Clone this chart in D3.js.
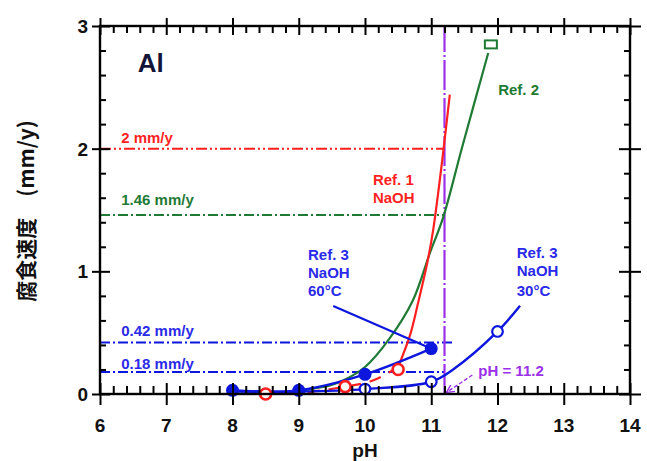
<!DOCTYPE html>
<html><head><meta charset="utf-8">
<script src="https://cdn.jsdelivr.net/npm/d3@7"></script>
<style>body{margin:0;background:#fff} svg{display:block}</style>
</head><body><svg id="c" width="647" height="461"></svg>
<script>
// ---- data ----
const xTickValues = [6, 7, 8, 9, 10, 11, 12, 13, 14];
const yTickValues = [0, 1, 2, 3];
const refLevels = [2, 1.46, 0.42, 0.18];
const refLabels = ["2 mm/y", "1.46 mm/y", "0.42 mm/y", "0.18 mm/y"];
const refEnds = [11.2, 11.2, 11.35, 11.2];
const limitPH = 11.2;
const ref1Dashed = [[8.5, 0.0], [9.2, 0.02], [9.7, 0.06], [10.12, 0.11], [10.5, 0.22]];
const ref1Curve = [[10.5, 0.22], [10.68, 0.48], [10.8, 0.74], [10.94, 1.07], [11.03, 1.34], [11.16, 1.88], [11.28, 2.44]];
const ref1Points = [[8.5, 0.0], [9.7, 0.06], [10.5, 0.2]];
const ref2Curve = [[8.9, 0.01], [9.06, 0.03], [9.47, 0.07], [9.67, 0.11], [10.0, 0.22], [10.38, 0.46], [10.72, 0.76], [10.98, 1.15], [11.18, 1.44], [11.46, 2.0], [11.86, 2.78]];
const ref2Points = [[11.9, 2.85]];
const ref3HotPoints = [[8, 0.03], [9, 0.03], [10, 0.16], [11, 0.37]];
const ref3ColdCurve = [[8, 0.02], [9, 0.02], [10, 0.04], [11, 0.1], [11.33, 0.2], [12, 0.51], [12.34, 0.72]];
const ref3ColdPoints = [[10, 0.04], [11, 0.1], [12, 0.51]];

// ---- layout ----
const x = d3.scaleLinear().domain([6, 14]).range([100, 630]);
const y = d3.scaleLinear().domain([0, 3]).range([394, 26]);
const RED = "#ff1f1f", GREEN = "#1f7a34", BLUE = "#0d16dc", PURPLE = "#9b30e8", TBLUE = "#2a2ae8";
const FONT = "'Liberation Sans', Arial, sans-serif";
const svg = d3.select("#c");
const line = d3.line().x(d => x(d[0])).y(d => y(d[1])).curve(d3.curveCatmullRom.alpha(0.5));

// reference horizontal lines
const dashes = ["11,3,2,3,2,3", "10,3,2,3", "10,3,2,3", "10,3,2,3"];
const refColors = [RED, GREEN, BLUE, BLUE];
refLevels.forEach((v, i) => {
  svg.append("line").attr("x1", x(6)).attr("x2", x(refEnds[i]))
    .attr("y1", y(v)).attr("y2", y(v))
    .attr("stroke", refColors[i]).attr("stroke-width", 2).attr("stroke-dasharray", dashes[i]);
});
const refLabelY = [2.046, 1.54, 0.473, 0.204];
refLabels.forEach((t, i) => {
  svg.append("text").attr("x", x(6.32)).attr("y", y(refLabelY[i]))
    .attr("fill", refColors[i] === BLUE ? TBLUE : refColors[i])
    .attr("font-family", FONT).attr("font-weight", "bold").attr("font-size", 15)
    .text(t);
});

// pH limit vertical line
svg.append("line").attr("x1", x(limitPH)).attr("x2", x(limitPH)).attr("y1", y(0)).attr("y2", y(3))
  .attr("stroke", PURPLE).attr("stroke-width", 2.2).attr("stroke-dasharray", "30,3,2,3");

// curves
svg.append("path").attr("d", line(ref2Curve)).attr("fill", "none").attr("stroke", GREEN).attr("stroke-width", 2.2);
svg.append("path").attr("d", line(ref1Dashed)).attr("fill", "none").attr("stroke", RED).attr("stroke-width", 2.2).attr("stroke-dasharray", "12,9");
svg.append("path").attr("d", line(ref1Curve)).attr("fill", "none").attr("stroke", RED).attr("stroke-width", 2.2);
svg.append("path").attr("d", line(ref3HotPoints)).attr("fill", "none").attr("stroke", BLUE).attr("stroke-width", 2.4);
svg.append("path").attr("d", line(ref3ColdCurve)).attr("fill", "none").attr("stroke", BLUE).attr("stroke-width", 2.4);

// leader for 60C label
const leader60 = [[9.52, 0.717], [10.98, 0.375]];
svg.append("path").attr("d", d3.line().x(d => x(d[0])).y(d => y(d[1]))(leader60))
  .attr("stroke", BLUE).attr("stroke-width", 2.2).attr("fill", "none");

// markers
svg.selectAll(".r1").data(ref1Points).enter().append("circle")
  .attr("cx", d => x(d[0])).attr("cy", d => y(d[1])).attr("r", 5.5)
  .attr("fill", "#fff").attr("stroke", RED).attr("stroke-width", 2.6);
svg.selectAll(".r2").data(ref2Points).enter().append("rect")
  .attr("x", d => x(d[0]) - 6).attr("y", d => y(d[1]) - 4).attr("width", 12).attr("height", 8)
  .attr("fill", "#fff").attr("stroke", GREEN).attr("stroke-width", 2);
svg.selectAll(".r3h").data(ref3HotPoints).enter().append("circle")
  .attr("cx", d => x(d[0])).attr("cy", d => y(d[1])).attr("r", 6.5).attr("fill", BLUE);
svg.selectAll(".r3c").data(ref3ColdPoints).enter().append("circle")
  .attr("cx", d => x(d[0])).attr("cy", d => y(d[1])).attr("r", 5.3)
  .attr("fill", "#fff").attr("stroke", BLUE).attr("stroke-width", 2.2);

// annotation texts
function multi(lines, px, baselines, color) {
  lines.forEach((t, i) => {
    svg.append("text").attr("x", x(px)).attr("y", y(baselines[i])).attr("fill", color)
      .attr("font-family", FONT).attr("font-weight", "bold").attr("font-size", 15).text(t);
  });
}
multi(["Ref. 1", "NaOH"], 10.12, [1.70, 1.555], RED);
multi(["Ref. 2"], 12.01, [2.437], GREEN);
multi(["Ref. 3", "NaOH", "60°C"], 9.14, [1.092, 0.946, 0.80], TBLUE);
multi(["Ref. 3", "NaOH", "30°C"], 12.29, [1.109, 0.962, 0.80], TBLUE);
multi(["pH = 11.2"], 11.71, [0.147], PURPLE);

// arrow to pH 11.2
const defs = svg.append("defs");
defs.append("marker").attr("id", "ah").attr("viewBox", "0 0 10 10").attr("refX", 9).attr("refY", 5)
  .attr("markerWidth", 6).attr("markerHeight", 6).attr("orient", "auto")
  .append("path").attr("d", "M0,0 L10,5 L0,10").attr("fill", "none").attr("stroke", PURPLE).attr("stroke-width", 1.6);
svg.append("line").attr("x1", x(11.62)).attr("y1", y(0.155)).attr("x2", x(11.24)).attr("y2", y(0.016))
  .attr("stroke", PURPLE).attr("stroke-width", 1.4).attr("stroke-dasharray", "4,2").attr("marker-end", "url(#ah)");

// "Al"
svg.append("text").attr("x", x(6.57)).attr("y", y(2.625)).attr("fill", "#14143a")
  .attr("font-family", FONT).attr("font-weight", "bold").attr("font-size", 26).text("Al");

// ---- axes ----
const minorX = d3.range(6, 14.001, 0.2).filter(v => Math.abs(v - Math.round(v)) > 1e-6);
const minorY = d3.range(0, 3.001, 0.2).filter(v => Math.abs(v - Math.round(v)) > 1e-6);
function styleAxis(g) {
  g.select(".domain").remove();
  g.selectAll("line").attr("stroke", "#000").attr("stroke-width", 2);
  g.selectAll("text").remove();
}
svg.append("g").attr("transform", `translate(0,${y(0)})`).call(d3.axisBottom(x).tickValues(xTickValues).tickSize(11)).call(styleAxis);
svg.append("g").attr("transform", `translate(0,${y(0)})`).call(d3.axisTop(x).tickValues(xTickValues).tickSize(11)).call(styleAxis);
svg.append("g").attr("transform", `translate(0,${y(3)})`).call(d3.axisBottom(x).tickValues(xTickValues).tickSize(9)).call(styleAxis);
svg.append("g").attr("transform", `translate(0,${y(3)})`).call(d3.axisTop(x).tickValues(xTickValues).tickSize(8)).call(styleAxis);
svg.append("g").attr("transform", `translate(${x(6)},0)`).call(d3.axisLeft(y).tickValues(yTickValues).tickSize(8)).call(styleAxis);
svg.append("g").attr("transform", `translate(${x(6)},0)`).call(d3.axisRight(y).tickValues(yTickValues).tickSize(10)).call(styleAxis);
svg.append("g").attr("transform", `translate(${x(14)},0)`).call(d3.axisLeft(y).tickValues(yTickValues).tickSize(11)).call(styleAxis);
svg.append("g").attr("transform", `translate(${x(14)},0)`).call(d3.axisRight(y).tickValues(yTickValues).tickSize(11)).call(styleAxis);
svg.append("g").attr("transform", `translate(0,${y(0)})`).call(d3.axisTop(x).tickValues(minorX).tickSize(8)).call(styleAxis);
svg.append("g").attr("transform", `translate(0,${y(3)})`).call(d3.axisBottom(x).tickValues(minorX).tickSize(7)).call(styleAxis);
svg.append("g").attr("transform", `translate(${x(6)},0)`).call(d3.axisRight(y).tickValues(minorY).tickSize(6)).call(styleAxis);
svg.append("g").attr("transform", `translate(${x(14)},0)`).call(d3.axisLeft(y).tickValues(minorY).tickSize(6)).call(styleAxis);
svg.append("rect").attr("x", x(6)).attr("y", y(3)).attr("width", x(14) - x(6)).attr("height", y(0) - y(3))
  .attr("fill", "none").attr("stroke", "#000").attr("stroke-width", 2.4);

// tick labels
svg.selectAll(".xl").data(xTickValues).enter().append("text")
  .attr("x", d => x(d)).attr("y", 432).attr("text-anchor", "middle")
  .attr("font-family", FONT).attr("font-weight", "bold").attr("font-size", 19).attr("fill", "#111").text(d => d);
svg.selectAll(".yl").data(yTickValues).enter().append("text")
  .attr("x", 88).attr("y", d => y(d)).attr("dy", "0.36em").attr("text-anchor", "end")
  .attr("font-family", FONT).attr("font-weight", "bold").attr("font-size", 19).attr("fill", "#111").text(d => d);

// axis titles
svg.append("text").attr("x", (x(6) + x(14)) / 2).attr("y", 457).attr("text-anchor", "middle")
  .attr("font-family", FONT).attr("font-weight", "bold").attr("font-size", 19).attr("fill", "#111").text("pH");
svg.append("text").attr("transform", "translate(25,211) rotate(-90)").attr("text-anchor", "middle")
  .attr("dominant-baseline", "central")
  .attr("font-family", "'Noto Sans CJK JP', sans-serif").attr("font-weight", "bold").attr("font-size", 21)
  .attr("fill", "#111").text("腐食速度　(mm/y)");
</script>
</body></html>
